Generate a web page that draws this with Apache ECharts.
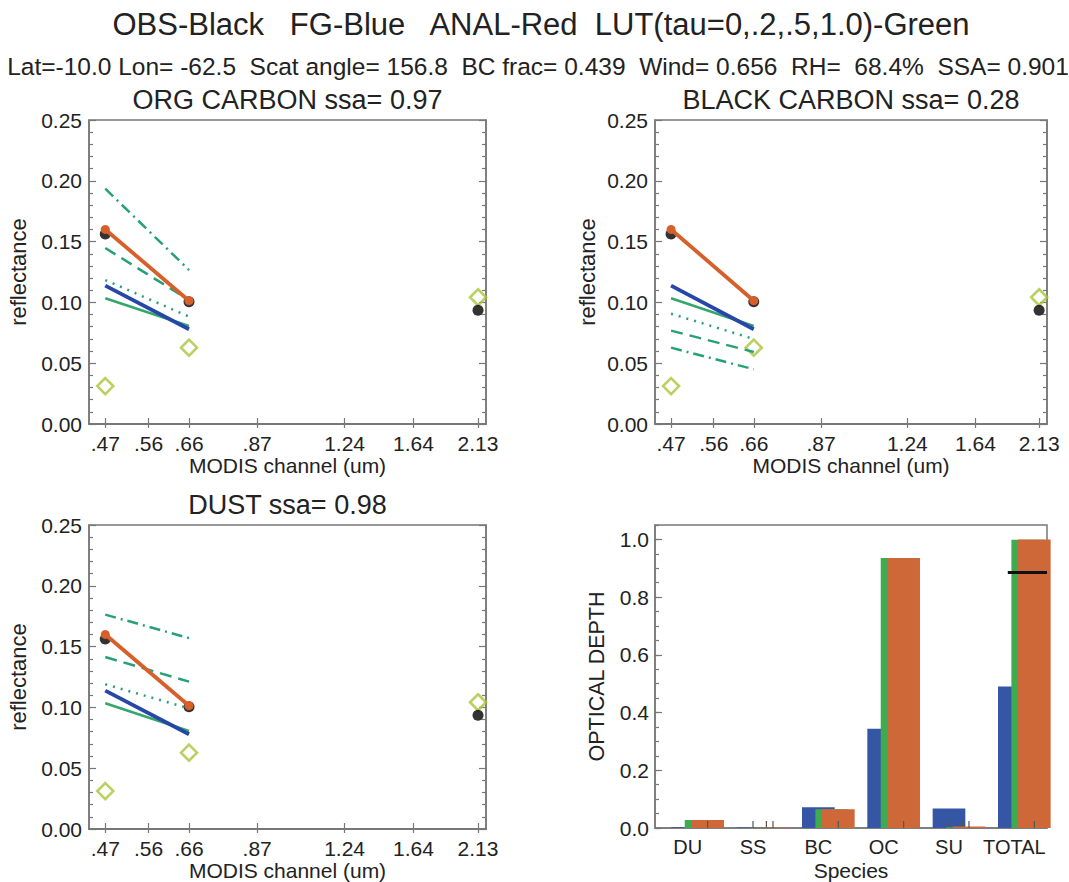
<!DOCTYPE html>
<html><head><meta charset="utf-8">
<script src="https://cdn.jsdelivr.net/npm/echarts@6/dist/echarts.min.js"></script>
<style>html,body{margin:0;padding:0;background:#fff}#c{width:1069px;height:882px}</style>
</head><body><div id="c"></div>
<script>
// ---------- data ----------
const channels = [0.47, 0.66, 2.13];
const visChannels = [0.47, 0.66];
const tickValues = [0.47, 0.56, 0.66, 0.87, 1.24, 1.64, 2.13];
const tickLabels = ['.47', '.56', '.66', '.87', '1.24', '1.64', '2.13'];

const obsRefl = [0.1562, 0.1006, 0.0935];      // OBS black
const analRefl = [0.1600, 0.1014];             // ANAL red
const fgRefl = [0.1138, 0.0779];               // FG blue
const surfRefl = [0.0312, 0.0628, 0.1042];     // diamonds
const lutTau0 = [0.1034, 0.0806];              // LUT tau=0 (same all panels)

const orgTau02 = [0.1184, 0.0883];
const orgTau05 = [0.1447, 0.1020];
const orgTau10 = [0.1935, 0.1266];

const bcTau02 = [0.0907, 0.0699];
const bcTau05 = [0.0768, 0.0592];
const bcTau10 = [0.0628, 0.0450];

const duTau02 = [0.1190, 0.0992];
const duTau05 = [0.1414, 0.1212];
const duTau10 = [0.1763, 0.1570];

const panelTitles = ['ORG CARBON ssa= 0.97', 'BLACK CARBON ssa= 0.28', 'DUST ssa= 0.98'];

const species = ['DU', 'SS', 'BC', 'OC', 'SU', 'TOTAL'];
const fgAod = [0.003, 0.002, 0.072, 0.344, 0.068, 0.490];
const lutAod = [0.028, 0.001, 0.065, 0.936, 0.003, 0.999];
const analAod = [0.028, 0.002, 0.065, 0.936, 0.005, 1.000];
const obsTotalAod = [[5, 0.885]];

// ---------- style ----------
const FONT = '"Liberation Sans", Arial, Helvetica, sans-serif';
const TXT = '#222';
const AX = '#777';
const GREEN = '#27a07a';
const GREEN0 = '#35a66c';
const BLUE = '#2747a8';
const ORANGE = '#d65f2a';
const LIME = '#a9c63a';
const BAR_BLUE = '#3456a5';
const BAR_GREEN = '#3fab50';
const BAR_ORANGE = '#cf6838';

const grids = [
  {left: 89, top: 120, width: 397, height: 304},
  {left: 655, top: 120, width: 392, height: 304},
  {left: 89, top: 525, width: 397, height: 304},
  {left: 655, top: 525, width: 392, height: 304}
];
const yNameGaps = [60, 57, 60];

function labelFor(v) {
  for (let i = 0; i < tickValues.length; i++) if (Math.abs(tickValues[i] - v) < 1e-4) return tickLabels[i];
  return '';
}
function pairs(xs, ys) { return ys.map((y, i) => [xs[i], y]); }

const xAxes = [], yAxes = [], series = [];
const lutSets = [[orgTau02, orgTau05, orgTau10], [bcTau02, bcTau05, bcTau10], [duTau02, duTau05, duTau10]];
const panelGrid = [0, 1, 2];

panelGrid.forEach((g, p) => {
  const xb = xAxes.length;
  xAxes.push({
    type: 'log', gridIndex: g, min: 0.44, max: 2.2, position: 'bottom',
    name: 'MODIS channel (um)', nameLocation: 'middle', nameGap: 31,
    nameTextStyle: {fontFamily: FONT, fontSize: 21, color: TXT},
    axisLine: {show: true, lineStyle: {color: AX, width: 1.5}},
    axisTick: {show: true, inside: true, length: 6, customValues: tickValues, lineStyle: {color: AX, width: 1.2}},
    axisLabel: {show: true, customValues: tickValues, formatter: v => labelFor(v), margin: 9,
      fontFamily: FONT, fontSize: 21, color: TXT},
    minorTick: {show: false}, splitLine: {show: false}
  });
  xAxes.push({
    type: 'log', gridIndex: g, min: 0.44, max: 2.2, position: 'top',
    axisLine: {show: true, lineStyle: {color: AX, width: 1.5}},
    axisTick: {show: true, inside: true, length: 4, customValues: tickValues, lineStyle: {color: AX, width: 1.2}},
    axisLabel: {show: false}, splitLine: {show: false}
  });
  const yb = yAxes.length;
  yAxes.push({
    type: 'value', gridIndex: g, min: 0, max: 0.25, interval: 0.05, position: 'left',
    name: 'reflectance', nameLocation: 'middle', nameGap: yNameGaps[p], nameRotate: 90,
    nameTextStyle: {fontFamily: FONT, fontSize: 22, color: TXT},
    axisLine: {show: true, lineStyle: {color: AX, width: 1.5}},
    axisTick: {show: true, inside: true, length: 7, lineStyle: {color: AX, width: 1.2}},
    minorTick: {show: true, splitNumber: 5, length: 4, lineStyle: {color: AX, width: 1.2}},
    axisLabel: {formatter: v => v.toFixed(2), margin: 7, fontFamily: FONT, fontSize: 21, color: TXT},
    splitLine: {show: false}
  });
  yAxes.push({
    type: 'value', gridIndex: g, min: 0, max: 0.25, interval: 0.05, position: 'right',
    axisLine: {show: true, lineStyle: {color: AX, width: 1.5}},
    axisTick: {show: true, inside: true, length: 7, lineStyle: {color: AX, width: 1.2}},
    minorTick: {show: true, splitNumber: 5, length: 4, lineStyle: {color: AX, width: 1.2}},
    axisLabel: {show: false}, splitLine: {show: false}
  });
  const base = {xAxisIndex: xb, yAxisIndex: yb, animation: false, silent: true};
  const lut = lutSets[p];
  const lineTypes = [[2, 6], [12, 7], [11, 5, 2, 5]];
  series.push(Object.assign({type: 'line', data: pairs(visChannels, lutTau0), symbol: 'none',
    lineStyle: {color: GREEN0, width: 2.5}}, base));
  lut.forEach((arr, k) => series.push(Object.assign({type: 'line', data: pairs(visChannels, arr), symbol: 'none',
    lineStyle: {color: GREEN, width: 2.5, type: lineTypes[k], cap: 'butt'}}, base)));
  series.push(Object.assign({type: 'line', data: pairs(visChannels, fgRefl), symbol: 'none',
    lineStyle: {color: BLUE, width: 3.8}}, base));
  series.push(Object.assign({type: 'line', data: pairs(visChannels, analRefl), symbol: 'circle', symbolSize: 9,
    showAllSymbol: true, itemStyle: {color: ORANGE}, lineStyle: {color: ORANGE, width: 3.8}}, base));
  series.push(Object.assign({type: 'scatter', data: pairs(channels, surfRefl), symbol: 'diamond', symbolSize: [16, 16],
    itemStyle: {color: 'rgba(255,255,255,0)', borderColor: LIME, borderWidth: 2.6}}, base));
  series.push(Object.assign({type: 'scatter', data: pairs(channels, obsRefl), symbol: 'circle', symbolSize: 11,
    itemStyle: {color: '#000'}}, base));
});

// ---------- bar panel ----------
const bxi = xAxes.length;
xAxes.push({
  type: 'category', gridIndex: 3, data: species, position: 'bottom',
  name: 'Species', nameLocation: 'middle', nameGap: 32,
  nameTextStyle: {fontFamily: FONT, fontSize: 21, color: TXT},
  axisLine: {show: true, lineStyle: {color: AX, width: 1.5}},
  axisTick: {show: false},
  axisLabel: {interval: 0, margin: 9, fontFamily: FONT, fontSize: 20, color: TXT}
});
const byi = yAxes.length;
yAxes.push({
  type: 'value', gridIndex: 3, min: 0, max: 1.05, interval: 0.2, position: 'left',
  name: 'OPTICAL DEPTH', nameLocation: 'middle', nameGap: 47, nameRotate: 90,
  nameTextStyle: {fontFamily: FONT, fontSize: 21.5, color: TXT},
  axisLine: {show: true, lineStyle: {color: AX, width: 1.5}},
  axisTick: {show: true, inside: true, length: 7, lineStyle: {color: AX, width: 1.2}},
  axisLabel: {showMaxLabel: false, formatter: v => (Math.abs(v * 5 - Math.round(v * 5)) < 1e-6 ? v.toFixed(1) : ''),
    margin: 6, fontFamily: FONT, fontSize: 21, color: TXT},
  splitLine: {show: false}
});
yAxes.push({
  type: 'value', gridIndex: 3, min: 0, max: 1.05, interval: 0.05, position: 'left',
  axisLine: {show: false},
  axisTick: {show: true, inside: true, length: 4, lineStyle: {color: AX, width: 1.2}},
  axisLabel: {show: false}, splitLine: {show: false}
});

function barRender(offsetFrac, widthFrac, color) {
  return function (params, api) {
    const cat = api.value(0), v = api.value(1);
    const band = api.size([1, 0])[0];
    const b = api.coord([cat, 0]);
    const t = api.coord([cat, v]);
    const left = b[0] - band / 2 + offsetFrac * band;
    const w = widthFrac * band;
    return {type: 'group', children: [
      {type: 'rect', shape: {x: left, y: t[1], width: w, height: b[1] - t[1]}, style: {fill: color}},
      {type: 'line', shape: {x1: left + w / 2, y1: b[1], x2: left + w / 2, y2: b[1] - 7},
        style: {stroke: '#555', lineWidth: 1.2}}
    ]};
  };
}
const bbase = {type: 'custom', xAxisIndex: bxi, yAxisIndex: byi, animation: false, silent: true, clip: false};
series.push(Object.assign({data: fgAod.map((v, i) => [i, v]), renderItem: barRender(0.25, 0.5, BAR_BLUE)}, bbase));
series.push(Object.assign({data: lutAod.map((v, i) => [i, v]), renderItem: barRender(0.455, 0.5, BAR_GREEN)}, bbase));
series.push(Object.assign({data: analAod.map((v, i) => [i, v]), renderItem: barRender(0.556, 0.5, BAR_ORANGE)}, bbase));
series.push(Object.assign({}, bbase, {clip: true, data: obsTotalAod, renderItem: function (params, api) {
  const cat = api.value(0), v = api.value(1);
  const band = api.size([1, 0])[0];
  const p = api.coord([cat, v]);
  const left = p[0] - band / 2;
  return {type: 'line', shape: {x1: left + 0.4 * band, y1: p[1], x2: left + band, y2: p[1]},
    style: {stroke: '#111', lineWidth: 3}};
}}));

// ---------- titles ----------
const graphic = [
  {type: 'text', x: 541, y: 24, style: {text: 'OBS-Black   FG-Blue   ANAL-Red  LUT(tau=0,.2,.5,1.0)-Green',
    font: '31px ' + FONT, fill: TXT, align: 'center', verticalAlign: 'middle'}},
  {type: 'text', x: 538, y: 66, style: {text: 'Lat=-10.0 Lon= -62.5  Scat angle= 156.8  BC frac= 0.439  Wind= 0.656  RH=  68.4%  SSA= 0.901',
    font: '24.5px ' + FONT, fill: TXT, align: 'center', verticalAlign: 'middle'}},
  {type: 'text', x: 287.5, y: 100, style: {text: panelTitles[0], font: '27px ' + FONT, fill: TXT, align: 'center', verticalAlign: 'middle'}},
  {type: 'text', x: 851, y: 100, style: {text: panelTitles[1], font: '27px ' + FONT, fill: TXT, align: 'center', verticalAlign: 'middle'}},
  {type: 'text', x: 287.5, y: 505, style: {text: panelTitles[2], font: '27px ' + FONT, fill: TXT, align: 'center', verticalAlign: 'middle'}}
];

const chart = echarts.init(document.getElementById('c'), null, {renderer: 'svg'});
chart.setOption({
  animation: false,
  backgroundColor: '#fff',
  textStyle: {fontFamily: FONT},
  grid: grids.map(g => Object.assign({show: true, borderColor: AX, borderWidth: 1.5, backgroundColor: 'transparent', containLabel: false}, g)),
  xAxis: xAxes,
  yAxis: yAxes,
  series: series,
  graphic: graphic
});
</script></body></html>
